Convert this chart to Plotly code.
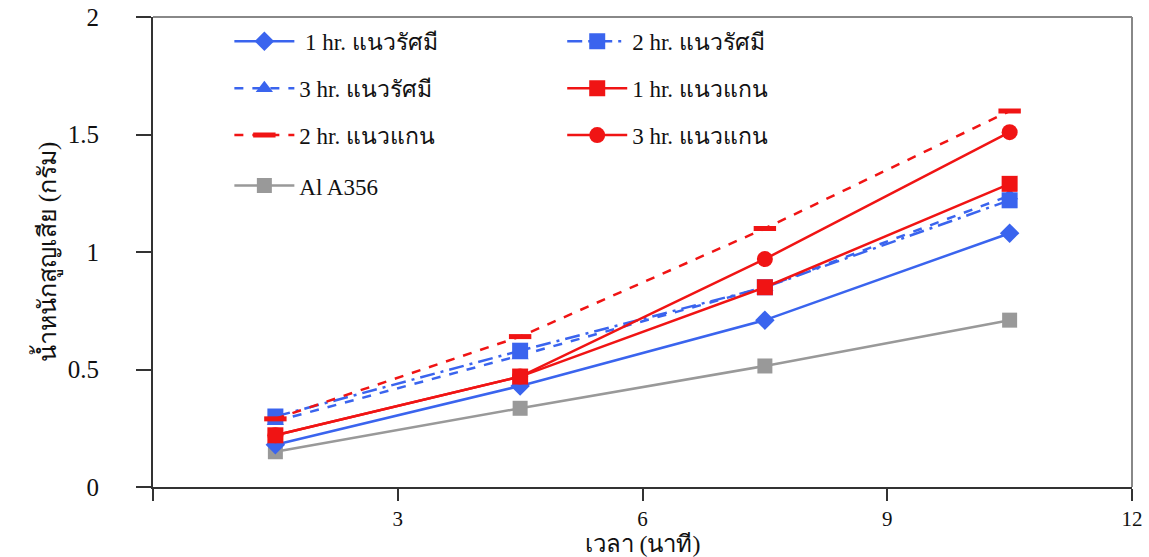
import plotly.graph_objects as go

# Sampling times (minutes)
time_min = [1.5, 4.5, 7.5, 10.5]

# Weight loss (grams) for each heat-treatment condition
radial_1hr = [0.18, 0.43, 0.71, 1.08]
radial_2hr = [0.30, 0.58, 0.85, 1.22]
radial_3hr = [0.28, 0.56, 0.85, 1.24]
axial_1hr = [0.22, 0.47, 0.85, 1.29]
axial_2hr = [0.29, 0.64, 1.10, 1.60]
axial_3hr = [0.22, 0.47, 0.97, 1.51]
al_a356 = [0.15, 0.335, 0.515, 0.71]

x_ticks = [0, 3, 6, 9, 12]
x_tick_text = ["", "3", "6", "9", "12"]
y_ticks = [0, 0.5, 1, 1.5, 2]
y_tick_text = ["0", "0.5", "1", "1.5", "2"]

BLUE = "#3a64ee"
RED = "#f01414"
GREY = "#999999"

series = [
    # name, values, colour, dash, symbol, marker size, legend id
    ("\u00a01 hr. แนวรัศมี", radial_1hr, BLUE, "solid", "diamond", 15, "legend"),
    ("3 hr. แนวรัศมี", radial_3hr, BLUE, "dash", "triangle-up", 15, "legend"),
    ("2 hr. แนวแกน", axial_2hr, RED, "dash", "line-ew", 16, "legend"),
    ("Al A356", al_a356, GREY, "solid", "square", 15, "legend3"),
    ("2 hr. แนวรัศมี", radial_2hr, BLUE, "longdashdot", "square", 16, "legend2"),
    ("1 hr. แนวแกน", axial_1hr, RED, "solid", "square", 16, "legend2"),
    ("3 hr. แนวแกน", axial_3hr, RED, "solid", "circle", 16, "legend2"),
]

# drawing order: grey first, then blue, then red on top
draw_order = ["Al A356", "\u00a01 hr. แนวรัศมี", "3 hr. แนวรัศมี", "2 hr. แนวรัศมี",
              "1 hr. แนวแกน", "3 hr. แนวแกน", "2 hr. แนวแกน"]
legend_rank = {s[0]: i for i, s in enumerate(series)}

fig = go.Figure()
lookup = {s[0]: s for s in series}
for name in draw_order:
    _, vals, col, dash, sym, size, leg = lookup[name]
    marker = dict(symbol=sym, size=size, color=col)
    if sym == "line-ew":
        marker = dict(symbol=sym, size=size, color=col,
                      line=dict(color=col, width=5))
    fig.add_trace(go.Scatter(
        x=time_min, y=vals, name=name, mode="lines+markers",
        line=dict(color=col, width=2.5, dash=dash),
        marker=marker, legend=leg, legendgroup=name,
        legendrank=legend_rank[name] + 1,
    ))

base_font = "Liberation Serif, Times New Roman, serif"

legend_common = dict(
    orientation="v", bgcolor="rgba(0,0,0,0)", borderwidth=0,
    font=dict(family=base_font, size=23, color="#111"),
    tracegroupgap=14, itemwidth=60, xanchor="left", yanchor="top",
)

fig.update_layout(
    width=1149, height=557,
    margin=dict(l=153, r=17, t=17, b=70, autoexpand=False),
    paper_bgcolor="white", plot_bgcolor="white",
    font=dict(family=base_font, size=20, color="#111"),
    legend=dict(x=0.078, y=0.994, **legend_common),
    legend2=dict(x=0.418, y=0.994, **legend_common),
    legend3=dict(x=0.078, y=0.687, **legend_common),
    xaxis=dict(
        range=[0, 12], tickvals=x_ticks, ticktext=x_tick_text,
        automargin=False,
        showgrid=False, zeroline=False, showline=True,
        linecolor="#333", linewidth=2, ticks="outside", ticklen=12,
        tickcolor="#333", tickwidth=1.5,
        tickfont=dict(family=base_font, size=21, color="#111"),
        title=dict(text="เวลา (นาที)", standoff=8,
                   font=dict(family=base_font, size=24, color="#111")),
    ),
    yaxis=dict(
        range=[0, 2], tickvals=y_ticks, ticktext=y_tick_text,
        automargin=False,
        showgrid=False, zeroline=False, showline=True,
        linecolor="#333", linewidth=2, ticks="outside", ticklen=15,
        tickcolor="#333", tickwidth=1.5, ticklabelstandoff=32,
        tickfont=dict(family=base_font, size=25, color="#111"),
        title=dict(text="น้ำหนักสูญเสีย (กรัม)", standoff=4,
                   font=dict(family=base_font, size=25, color="#111")),
    ),
)

# light frame on the top and right sides of the plot area
fig.add_shape(type="line", xref="x domain", yref="y domain",
              x0=0, x1=1, y0=1, y1=1, line=dict(color="#888", width=2))
fig.add_shape(type="line", xref="x domain", yref="y domain",
              x0=1, x1=1, y0=0, y1=1, line=dict(color="#888", width=2))

fig.write_html("out.html")
